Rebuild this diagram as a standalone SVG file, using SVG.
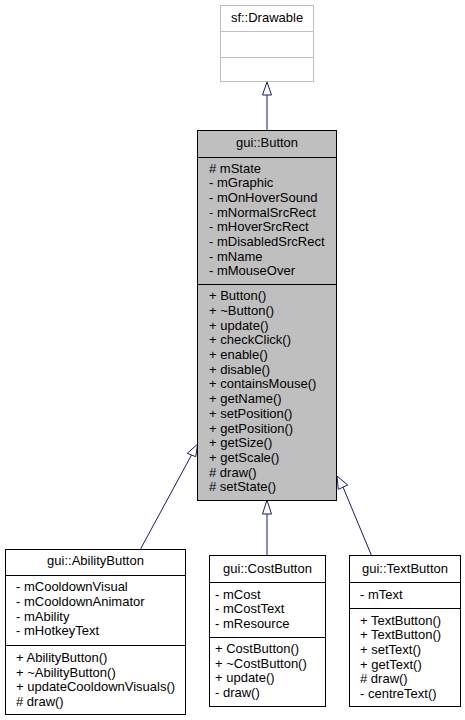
<svg xmlns="http://www.w3.org/2000/svg" width="465" height="720" viewBox="0 0 465 720">
<style>
text{font-family:"Liberation Sans",Arial,sans-serif;font-size:13px;fill:#000}
.c{text-anchor:middle}
.box{fill:#fff;stroke:#000;stroke-width:1}
.dv{stroke:#000;stroke-width:1}
.edge{stroke:#191970;stroke-width:1;fill:none}
.head{fill:#fff;stroke:#191970;stroke-width:1}
</style>
<rect width="465" height="720" fill="#fff"/>
<g id="connectors">
<line class="edge" x1="267" y1="95" x2="267" y2="131"/>
<polygon class="head" points="267,82 262.5,95 271.5,95"/>
<line class="edge" x1="191.5" y1="455" x2="140" y2="550"/>
<polygon class="head" points="197.7,444 187.3,453.3 195.7,456.7"/>
<line class="edge" x1="267" y1="514" x2="267" y2="556"/>
<polygon class="head" points="267,500 262.5,514 271.5,514"/>
<line class="edge" x1="343" y1="487" x2="371.7" y2="556"/>
<polygon class="head" points="337,476 338.3,489.3 347.7,485"/>
</g>
<g id="sf_Drawable">
<rect x="220.5" y="5.5" width="93" height="76" fill="#fff" stroke="#bfbfbf"/>
<line x1="220.5" y1="31.5" x2="313.5" y2="31.5" stroke="#bfbfbf"/>
<line x1="220.5" y1="57.5" x2="313.5" y2="57.5" stroke="#bfbfbf"/>
<text class="c" x="267" y="22">sf::Drawable</text>
</g>
<g id="gui_Button">
<rect x="197.5" y="130.5" width="139" height="370" fill="#bfbfbf" stroke="#000"/>
<line class="dv" x1="197.5" y1="157.5" x2="336.5" y2="157.5"/>
<line class="dv" x1="197.5" y1="284.5" x2="336.5" y2="284.5"/>
<text class="c" x="267" y="146.5">gui::Button</text>
<text x="209" y="172.8"># mState</text>
<text x="209" y="187.4">- mGraphic</text>
<text x="209" y="202.1">- mOnHoverSound</text>
<text x="209" y="216.7">- mNormalSrcRect</text>
<text x="209" y="231.3">- mHoverSrcRect</text>
<text x="209" y="246">- mDisabledSrcRect</text>
<text x="209" y="260.6">- mName</text>
<text x="209" y="275.2">- mMouseOver</text>
<text x="209" y="300.2">+ Button()</text>
<text x="209" y="314.9">+ ~Button()</text>
<text x="209" y="329.6">+ update()</text>
<text x="209" y="344.3">+ checkClick()</text>
<text x="209" y="359">+ enable()</text>
<text x="209" y="373.7">+ disable()</text>
<text x="209" y="388.4">+ containsMouse()</text>
<text x="209" y="403.1">+ getName()</text>
<text x="209" y="417.8">+ setPosition()</text>
<text x="209" y="432.5">+ getPosition()</text>
<text x="209" y="447.2">+ getSize()</text>
<text x="209" y="461.9">+ getScale()</text>
<text x="209" y="476.6"># draw()</text>
<text x="209" y="491.3"># setState()</text>
</g>
<g id="gui_AbilityButton">
<rect class="box" x="5.5" y="549.5" width="180" height="165"/>
<line class="dv" x1="5.5" y1="575.5" x2="185.5" y2="575.5"/>
<line class="dv" x1="5.5" y1="645.5" x2="185.5" y2="645.5"/>
<text class="c" x="95.5" y="565.2">gui::AbilityButton</text>
<text x="16" y="591.2">- mCooldownVisual</text>
<text x="16" y="605.9">- mCooldownAnimator</text>
<text x="16" y="620.6">- mAbility</text>
<text x="16" y="635.3">- mHotkeyText</text>
<text x="16" y="661.8">+ AbilityButton()</text>
<text x="16" y="676.5">+ ~AbilityButton()</text>
<text x="16" y="691.2">+ updateCooldownVisuals()</text>
<text x="16" y="705.9"># draw()</text>
</g>
<g id="gui_CostButton">
<rect class="box" x="209.5" y="555.5" width="116" height="151"/>
<line class="dv" x1="209.5" y1="582.5" x2="325.5" y2="582.5"/>
<line class="dv" x1="209.5" y1="637.5" x2="325.5" y2="637.5"/>
<text class="c" x="267.5" y="572.8">gui::CostButton</text>
<text x="215" y="598.5">- mCost</text>
<text x="215" y="613.2">- mCostText</text>
<text x="215" y="627.9">- mResource</text>
<text x="215" y="652.8">+ CostButton()</text>
<text x="215" y="667.5">+ ~CostButton()</text>
<text x="215" y="682.2">+ update()</text>
<text x="215" y="696.9">- draw()</text>
</g>
<g id="gui_TextButton">
<rect class="box" x="349.5" y="555.5" width="111" height="151"/>
<line class="dv" x1="349.5" y1="582.5" x2="460.5" y2="582.5"/>
<line class="dv" x1="349.5" y1="608.5" x2="460.5" y2="608.5"/>
<text class="c" x="405" y="572.8">gui::TextButton</text>
<text x="360" y="598.5">- mText</text>
<text x="360" y="624.5">+ TextButton()</text>
<text x="360" y="639.2">+ TextButton()</text>
<text x="360" y="653.9">+ setText()</text>
<text x="360" y="668.6">+ getText()</text>
<text x="360" y="683.3"># draw()</text>
<text x="360" y="698">- centreText()</text>
</g>
</svg>
